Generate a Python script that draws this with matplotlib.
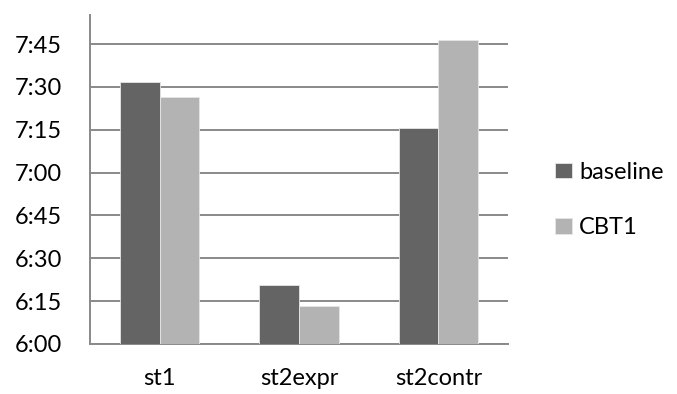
import matplotlib
matplotlib.use("Agg")
import matplotlib.pyplot as plt
import numpy as np
from matplotlib.ticker import FuncFormatter, MultipleLocator

# Mean times, in minutes after midnight
categories = ["st1", "st2expr", "st2contr"]
baseline = [451.6, 380.8, 435.6]
cbt1 = [446.6, 373.3, 466.6]
series_names = ["baseline", "CBT1"]

plt.rcParams['font.family'] = ['Lato', 'DejaVu Sans']

fig = plt.figure(figsize=(6.77, 3.94), dpi=100)
ax = fig.add_axes([90 / 677, 50 / 394, 418 / 677, 329 / 394])

x = np.arange(len(categories))
w = 1 / 3.5
dark = "#646464"
light = "#b3b3b3"
ax.bar(x - w / 2, baseline, w, color=dark, edgecolor="#e6e6e6", linewidth=0.6,
       label=series_names[0], zorder=3)
ax.bar(x + w / 2, cbt1, w, color=light, edgecolor="#e6e6e6", linewidth=0.6,
       label=series_names[1], zorder=3)

ax.set_xlim(-0.5, 2.5)
ax.set_ylim(360, 475.2)
ax.yaxis.set_major_locator(MultipleLocator(15))
ax.yaxis.set_major_formatter(FuncFormatter(lambda v, p: f"{int(v // 60)}:{int(round(v % 60)):02d}"))
ax.set_xticks(x)
ax.set_xticklabels(categories)

grid_c = "#898989"
ax.yaxis.grid(True, color=grid_c, linewidth=1.4, zorder=0)
ax.set_axisbelow(True)
for s in ["top", "right"]:
    ax.spines[s].set_visible(False)
ax.spines["left"].set_color(grid_c)
ax.spines["bottom"].set_color(grid_c)
ax.spines["left"].set_linewidth(1.4)
ax.spines["bottom"].set_linewidth(1.4)
ax.tick_params(axis="both", length=0, labelsize=17, colors="black")
ax.tick_params(axis="y", pad=20)
ax.tick_params(axis="x", pad=17)

fig.legend(loc="center left", bbox_to_anchor=(555 / 677, 1 - 200 / 394),
           frameon=False, fontsize=17, handlelength=0.7, handleheight=0.64,
           handletextpad=0.32, labelspacing=1.45, borderpad=0, borderaxespad=0)

fig.savefig("out.png", dpi=100)
